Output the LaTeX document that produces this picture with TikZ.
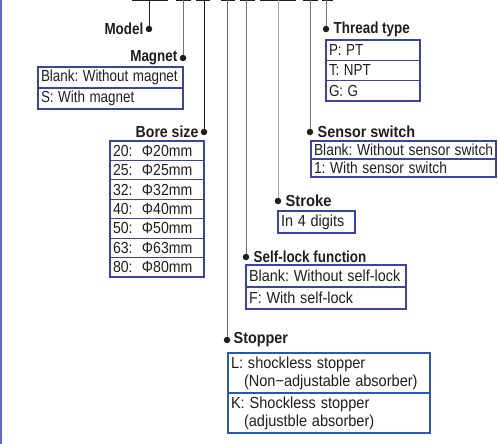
\documentclass[tikz,border=0pt]{standalone}
\usepackage{graphicx}
\usepackage{fontspec}
\setmainfont{Liberation Sans}
\usetikzlibrary{positioning}
\definecolor{boxblue}{RGB}{58,68,168}
\definecolor{stopblue}{RGB}{40,88,178}
\definecolor{edgeblue}{RGB}{104,104,190}
\definecolor{ink}{RGB}{30,30,30}
\newcommand\nar[2][0.84]{\scalebox{#1}[1]{#2}}
\tikzset{
  cell/.style={draw=boxblue, line width=1.2pt, outer sep=0pt, inner xsep=3pt, inner ysep=0pt,
    align=left, anchor=north west, text=ink, font=\fontsize{16}{18}\selectfont\frenchspacing},
  title/.style={font=\fontsize{16}{18}\selectfont\bfseries, text=ink, inner sep=1pt},
  dot/.style={circle, fill=ink, inner sep=0pt, minimum size=6.5pt},
  bar/.style={line width=3pt, draw=ink},
  lead/.style={line width=1pt},
}

\begin{document}
\begin{tikzpicture}[x=1pt,y=-1pt]
\useasboundingbox (0,0) rectangle (498,444);
%%%%% START %%%%%
\draw[edgeblue, line width=1.5pt] (0.75,0) -- (0.75,444);

% code bars at the top
\draw[bar] (132,0) -- (168,0);
\draw[bar] (176,0) -- (191,0);
\draw[bar] (196,0) -- (210,0);
\draw[bar] (221,0) -- (235,0);
\draw[bar] (240,0) -- (255,0);
\draw[bar] (260,0) -- (296,0);
\draw[bar] (303,0) -- (318,0);
\draw[bar] (322,0) -- (333,0);
\coordinate (tModel) at (149,0);
\coordinate (tMagnet) at (183,0);
\coordinate (tBore) at (204,0);
\coordinate (tStopper) at (227,0);
\coordinate (tLock) at (246,0);
\coordinate (tStroke) at (278,0);
\coordinate (tSensor) at (310,0);
\coordinate (tThread) at (326,0);

% dots
\node[dot] (dModel) at (149,29) {};
\node[dot] (dMagnet) at (183,58) {};
\node[dot] (dBore) at (204,132) {};
\node[dot] (dThread) at (326,29) {};
\node[dot] (dSensor) at (310,132) {};
\node[dot] (dStroke) at (278,201) {};
\node[dot] (dLock) at (246,257) {};
\node[dot] (dStopper) at (227,340) {};

\draw[lead, black!85] (tModel) -- (dModel);
\draw[lead, black!55] (tMagnet) -- (dMagnet);
\draw[lead, black!90] (tBore) -- (dBore);
\draw[lead, black!60] (tStopper) -- (dStopper);
\draw[lead, black!55] (tLock) -- (dLock);
\draw[lead, black!35] (tStroke) -- (dStroke);
\draw[lead, black!55] (tSensor) -- (dSensor);
\draw[lead, black!55] (tThread) -- (dThread);

% titles
\node[title, left=1pt of dModel] (lModel) {\nar{Model}};
\node[title, left=1pt of dMagnet] (lMagnet) {\nar{Magnet}};
\node[title, left=1pt of dBore] (lBore) {\nar[0.88]{Bore size}};
\node[title, right=3pt of dThread] (lThread) {\nar{Thread type}};
\node[title, right=3pt of dSensor] (lSensor) {\nar[0.9]{Sensor switch}};
\node[title, right=3pt of dStroke] (lStroke) {\nar[0.92]{Stroke}};
\node[title, right=3pt of dLock] (lLock) {\nar{Self-lock function}};
\node[title, right=2pt of dStopper] (lStopper) {\nar[0.9]{Stopper}};

% magnet
\node[cell, text width=139pt, minimum height=21pt] (mag1) at (38,67) {\nar{Blank: Without magnet}};
\node[cell, text width=139pt, minimum height=21pt, below=0pt of mag1] (mag2) {\nar{S: With magnet}};

% bore size
\node[cell, text width=88pt, minimum height=19.43pt] (bore1) at (110,141) {\nar[0.88]{20:\ \ Φ20mm}};
\node[cell, text width=88pt, minimum height=19.43pt, below=0pt of bore1] (bore2) {\nar[0.88]{25:\ \ Φ25mm}};
\node[cell, text width=88pt, minimum height=19.43pt, below=0pt of bore2] (bore3) {\nar[0.88]{32:\ \ Φ32mm}};
\node[cell, text width=88pt, minimum height=19.43pt, below=0pt of bore3] (bore4) {\nar[0.88]{40:\ \ Φ40mm}};
\node[cell, text width=88pt, minimum height=19.43pt, below=0pt of bore4] (bore5) {\nar[0.88]{50:\ \ Φ50mm}};
\node[cell, text width=88pt, minimum height=19.43pt, below=0pt of bore5] (bore6) {\nar[0.88]{63:\ \ Φ63mm}};
\node[cell, text width=88pt, minimum height=19.43pt, below=0pt of bore6] (bore7) {\nar[0.88]{80:\ \ Φ80mm}};

% thread type
\node[cell, text width=88pt, minimum height=20.33pt] (thr1) at (326,40) {\nar{P: PT}};
\node[cell, text width=88pt, minimum height=20.33pt, below=0pt of thr1] (thr2) {\nar{T: NPT}};
\node[cell, text width=88pt, minimum height=20.33pt, below=0pt of thr2] (thr3) {\nar{G: G}};

% sensor switch
\node[cell, text width=179pt, minimum height=18pt] (sen1) at (311,141) {\nar[0.865]{Blank: Without sensor switch}};
\node[cell, text width=179pt, minimum height=18pt, below=0pt of sen1] (sen2) {\nar[0.865]{1: With sensor switch}};

% stroke
\node[cell, text width=71pt, minimum height=22pt] (str1) at (278,211) {\nar[0.9]{In 4 digits}};

% self-lock
\node[cell, text width=154pt, minimum height=22pt] (lock1) at (246,265) {\nar[0.9]{Blank: Without self-lock}};
\node[cell, text width=154pt, minimum height=22pt, below=0pt of lock1] (lock2) {\nar[0.9]{F: With self-lock}};

% stopper
\node[cell, draw=stopblue, text width=196pt, minimum height=40pt] (stop1) at (228,353)
  {\nar[0.91]{L: shockless stopper}\\\hspace*{13pt}\nar[0.91]{(Non−adjustable absorber)}};
\node[cell, draw=stopblue, text width=196pt, minimum height=40pt, below=0pt of stop1] (stop2)
  {\nar[0.91]{K: Shockless stopper}\\\hspace*{13pt}\nar[0.91]{(adjustble absorber)}};
%%%%% END %%%%%
\end{tikzpicture}
\end{document}
